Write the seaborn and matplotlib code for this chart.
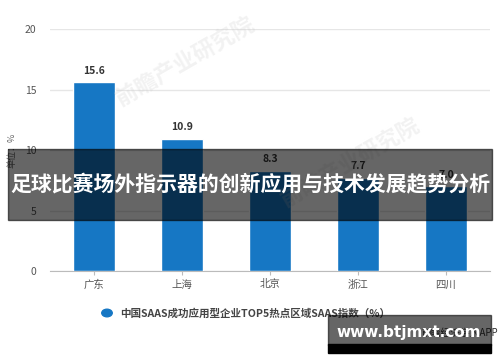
import numpy as np
import pandas as pd
import seaborn as sns
import matplotlib.pyplot as plt
from matplotlib.patches import Rectangle

# data
regions = ['广东', '上海', '北京', '浙江', '四川']
index_values = [15.6, 10.9, 8.3, 7.7, 7.0]
y_ticks = [0, 5, 10, 15, 20]
series_name = '中国SAAS成功应用型企业TOP5热点区域SAAS指数（%）'
banner_title = '足球比赛场外指示器的创新应用与技术发展趋势分析'
unit_label = '单位：%'
source_text = '前瞻经济学人APP'
site_text = 'www.btjmxt.com'

bar_color = '#1677c4'
text_color = '#444444'

sns.set_style('white')
plt.rcParams['font.family'] = ['Noto Sans CJK SC', 'DejaVu Sans']

df = pd.DataFrame({'region': regions, 'value': index_values})

fig = plt.figure(figsize=(5, 3.62), dpi=100)
ax = fig.add_axes([0.1, 0.251, 0.88, 0.669])

sns.barplot(data=df, x='region', y='value', color=bar_color, width=0.47,
            saturation=1, ax=ax, zorder=3)

ax.set_ylim(0, 20)
ax.set_yticks(y_ticks)
ax.set_xlim(-0.5, 4.5)
ax.set(xlabel='', ylabel='')
ax.yaxis.grid(True, color='#e6e6e6', lw=1)
ax.set_axisbelow(True)
for s in ['top', 'right', 'left']:
    ax.spines[s].set_visible(False)
ax.spines['bottom'].set_color('#bbbbbb')
ax.tick_params(axis='y', length=0, labelsize=7.5, labelcolor='#555555', pad=10)
ax.tick_params(axis='x', length=3, color='#bbbbbb', labelsize=7.5, labelcolor='#555555', pad=3,
               bottom=True)

for i, v in enumerate(index_values):
    ax.text(i, v + 0.55, f'{v}', ha='center', va='bottom', fontsize=7.5,
            fontweight='bold', color='#333333', zorder=4)

fig.text(0.024, 1 - 150 / 362, unit_label, rotation=90, ha='center', va='center',
         fontsize=6.5, color='#666666')

# legend
fig.patches.append(plt.Circle((107 / 500, 1 - 313 / 362), 0.0105, transform=fig.transFigure,
                              color=bar_color, figure=fig))
fig.text(120 / 500, 1 - 313 / 362, series_name, ha='left', va='center', fontsize=7.6,
         color=text_color, fontweight='bold')

fig.text(0.997, 1 - 333 / 362, source_text, ha='right', va='center', fontsize=7,
         color='#333333')

# faint watermark
fig.text(0.37, 0.83, '前瞻产业研究院', rotation=30, fontsize=16, color='#cccccc',
         alpha=0.25, ha='center', va='center', fontweight='bold')
fig.text(0.7, 0.55, '前瞻产业研究院', rotation=30, fontsize=16, color='#cccccc',
         alpha=0.25, ha='center', va='center', fontweight='bold')

# banner overlay
fig.patches.append(Rectangle((8 / 500, 1 - 220 / 362), 484 / 500, 71 / 362,
                             transform=fig.transFigure, color='black', alpha=0.6,
                             zorder=10, figure=fig))
fig.text(0.5, 1 - 185 / 362, banner_title, ha='center', va='center', fontsize=15,
         color='white', fontweight='bold', zorder=11)

# site box
fig.patches.append(Rectangle((328 / 500, 1 - 345 / 362), 163 / 500, 30 / 362,
                             transform=fig.transFigure, color='black', alpha=0.6,
                             zorder=10, figure=fig))
fig.patches.append(Rectangle((328 / 500, 1 - 353 / 362), 163 / 500, 9 / 362,
                             transform=fig.transFigure, color='black',
                             zorder=10, figure=fig))
fig.text(409 / 500, 1 - 332 / 362, site_text, ha='center', va='center', fontsize=11,
         color='white', fontweight='bold', family='DejaVu Sans', zorder=11)

fig.savefig('out.png', dpi=100)
